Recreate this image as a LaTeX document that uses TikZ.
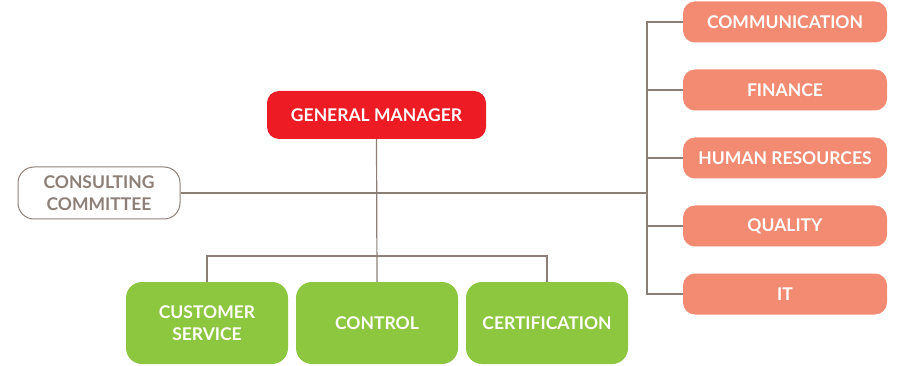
\documentclass[tikz,border=0pt]{standalone}
\usepackage{fontspec}
\setmainfont{Lato}
\definecolor{gmred}{HTML}{ED1C24}
\definecolor{salmon}{HTML}{F38B73}
\definecolor{leaf}{HTML}{8DC63F}
\definecolor{linec}{HTML}{8C7F77}
\tikzset{
  box/.style={rounded corners=12pt, minimum height=41pt, text=white, font=\bfseries\fontsize{17.5}{21.5}\selectfont, inner sep=0pt, align=center},
  gm/.style={box, fill=gmred, minimum width=219pt, minimum height=48pt},
  dept/.style={box, fill=salmon, minimum width=204pt},
  unit/.style={box, fill=leaf, minimum width=162pt, minimum height=82pt, rounded corners=16pt},
  cons/.style={box, draw=linec, line width=1pt, text=linec, minimum width=162pt, minimum height=52pt, rounded corners=16pt},
  conn/.style={draw=linec, line width=1.2pt},
}
\begin{document}
\begin{tikzpicture}[x=1pt,y=-1pt]
\useasboundingbox (0,0) rectangle (897,366);
\node[gm] (gm) at (376.5,115) {GENERAL MANAGER};
\node[cons] (cc) at (99,193) {CONSULTING\\COMMITTEE};
\node[dept] (d1) at (785,22) {COMMUNICATION};
\node[dept] (d2) at (785,90) {FINANCE};
\node[dept] (d3) at (785,158) {HUMAN RESOURCES};
\node[dept] (d4) at (785,226) {QUALITY};
\node[dept] (d5) at (785,294) {IT};
\node[unit] (u1) at (207,323) {CUSTOMER\\SERVICE};
\node[unit] (u2) at (377,323) {CONTROL};
\node[unit] (u3) at (547,323) {CERTIFICATION};
\coordinate (hub) at (377,193);
\coordinate (rb) at (647,193);
\coordinate (bar) at (377,256);
\path[conn] (gm.south) -- (u2.north);
\path[conn] (cc.east) -- (hub) -- (rb);
\path[conn] (d1.west) -| (rb);
\path[conn] (rb) |- (d5.west);
\path[conn] (d2.west) -- (d2.west -| rb);
\path[conn] (d3.west) -- (d3.west -| rb);
\path[conn] (d4.west) -- (d4.west -| rb);
\path[conn] (u1.north) |- (bar) -| (u3.north);
\end{tikzpicture}
\end{document}
